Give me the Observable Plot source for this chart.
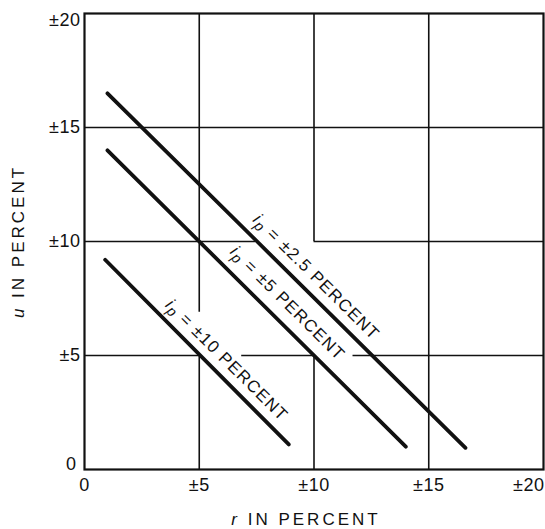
<!DOCTYPE html>
<html><head><meta charset="utf-8">
<script src="https://cdn.jsdelivr.net/npm/d3@7"></script>
<script src="https://cdn.jsdelivr.net/npm/@observablehq/plot@0.6"></script>
<style>
body{margin:0;background:#fff;}
#chart svg{display:block;}
</style></head><body><div id="chart"></div>
<script>
// ---- data ----
const seriesNames = ["±2.5", "±5", "±10"];
const rStart = [1.0, 1.0, 0.9];
const uStart = [16.5, 14.0, 9.2];
const rEnd = [16.6, 14.0, 8.9];
const uEnd = [0.95, 1.0, 1.1];
const labelR = [10.1, 8.85, 6.2];
const labelU = [8.45, 7.3, 4.8];

const xTicks = [0, 5, 10, 15, 20];
const xTickLabels = ["0", "±5", "±10", "±15", "±20"];
const yTicks = [0, 5, 10, 15, 20];
const yTickLabels = ["0", "±5", "±10", "±15", "±20"];

// grid segments (gaps where the original leaves room for labels)
const vGridX = [5, 5, 10, 10, 15];
const vGridFrom = [0, 6.9, 0, 10, 0];
const vGridTo = [5, 20, 5, 20, 20];
const hGridY = [5, 5, 5, 10, 10, 15];
const hGridFrom = [0, 6.85, 11.7, 0, 10, 0];
const hGridTo = [5, 10, 20, 7.45, 20, 20];

const xTitle = "r IN PERCENT";
const yTitle = "u IN PERCENT";

// ---- tables built from the arrays ----
const linePts = seriesNames.flatMap((s, i) => [
  {s, r: rStart[i], u: uStart[i]},
  {s, r: rEnd[i], u: uEnd[i]}
]);
const labels = seriesNames.map((s, i) => ({s, r: labelR[i], u: labelU[i]}));
const vGrid = vGridX.map((x, i) => ({x, from: vGridFrom[i], to: vGridTo[i]}));
const hGrid = hGridY.map((y, i) => ({y, from: hGridFrom[i], to: hGridTo[i]}));
const xt = xTicks.map((v, i) => ({v, t: xTickLabels[i]}));
const yt = yTicks.map((v, i) => ({v, t: yTickLabels[i]}));

const ink = "#111";
const font = "Liberation Sans, Arial, sans-serif";
const tickSize = 18;

const chart = Plot.plot({
  width: 545,
  height: 529,
  marginLeft: 84,
  marginRight: 2,
  marginTop: 13,
  marginBottom: 60,
  x: {domain: [0, 20], axis: null},
  y: {domain: [0, 20], axis: null},
  style: {fontFamily: font, background: "#fff", color: ink},
  marks: [
    Plot.ruleX(vGrid, {x: "x", y1: "from", y2: "to", stroke: ink, strokeWidth: 1.6}),
    Plot.ruleY(hGrid, {y: "y", x1: "from", x2: "to", stroke: ink, strokeWidth: 1.6}),
    Plot.frame({stroke: ink, strokeWidth: 2.2}),
    Plot.line(linePts, {x: "r", y: "u", z: "s", stroke: ink, strokeWidth: 3.8, strokeLinecap: "round"}),
    Plot.text(labels, {x: "r", y: "u", text: d => `ip = ${d.s} PERCENT`, rotate: 44.8,
      fontSize: 17, textAnchor: "middle", lineAnchor: "middle", fill: ink}),
    // x tick labels
    Plot.text(xt.filter(d => d.v < 20), {x: "v", text: "t", frameAnchor: "bottom", dy: 9,
      textAnchor: "middle", lineAnchor: "top", fontSize: tickSize, fill: ink}),
    Plot.text(xt.filter(d => d.v === 20), {x: "v", text: "t", frameAnchor: "bottom", dy: 9, dx: 1,
      lineAnchor: "top", textAnchor: "end", fontSize: tickSize, fill: ink}),
    // y tick labels
    Plot.text(yt.filter(d => d.v > 0 && d.v < 20), {y: "v", text: "t", frameAnchor: "left", dx: -4,
      textAnchor: "end", lineAnchor: "middle", fontSize: tickSize, fill: ink}),
    Plot.text(yt.filter(d => d.v === 20), {y: "v", text: "t", frameAnchor: "left", dx: -4,
      textAnchor: "end", lineAnchor: "top", fontSize: tickSize, fill: ink}),
    Plot.text(yt.filter(d => d.v === 0), {y: "v", text: "t", frameAnchor: "left", dx: -8,
      textAnchor: "end", lineAnchor: "bottom", fontSize: tickSize, fill: ink}),
    // axis titles
    Plot.text([xTitle], {text: d => d, frameAnchor: "bottom", dy: 50, dx: -8,
      textAnchor: "middle", lineAnchor: "middle", fontSize: 17, fill: ink}),
    Plot.text([yTitle], {text: d => d, frameAnchor: "left", dx: -66, rotate: -90,
      textAnchor: "middle", lineAnchor: "middle", fontSize: 17, fill: ink})
  ]
});

document.getElementById("chart").appendChild(chart);

// typographic touches: italic symbol letters, subscript p, letter spacing
const svg = d3.select(chart);
svg.selectAll("text").each(function() {
  const el = d3.select(this);
  const s = el.text();
  if (s.startsWith("ip = ")) {
    const rest = s.slice(2);
    el.text(null).attr("letter-spacing", "1.2px");
    el.append("tspan").attr("font-style", "italic").text("i");
    el.append("tspan").attr("font-style", "italic").attr("font-size", "0.85em").attr("dy", "0.25em").text("p");
    el.append("tspan").attr("dy", "-0.2em").text(rest);
  } else if (s === xTitle || s === yTitle) {
    el.text(null).attr("letter-spacing", "3px");
    el.append("tspan").attr("font-style", "italic").text(s[0]);
    el.append("tspan").text(s.slice(1));
  } else if (/^(±?\d+)$/.test(s)) {
    el.attr("letter-spacing", "0.5px");
  }
});
</script>
</body></html>
